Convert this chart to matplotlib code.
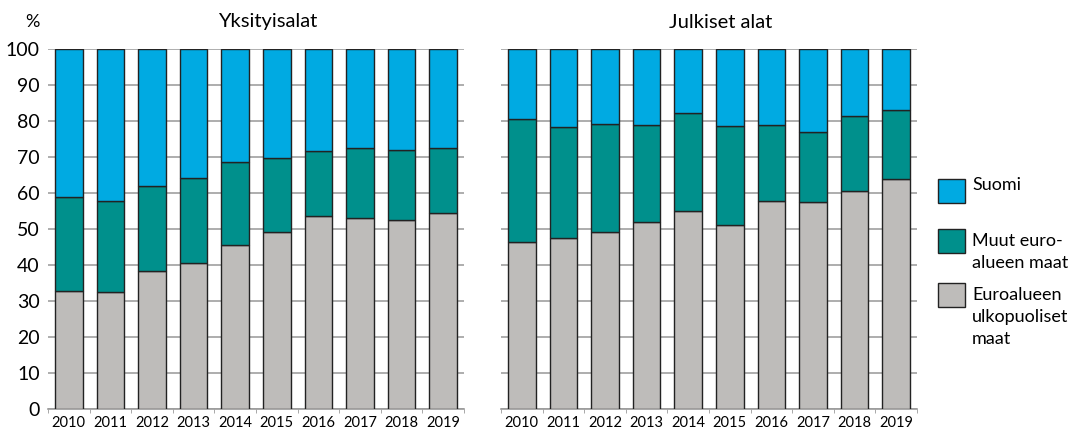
import matplotlib
matplotlib.use("Agg")
import matplotlib.pyplot as plt
import numpy as np

plt.rcParams["font.family"] = ["Lato", "DejaVu Sans"]

years = ["2010", "2011", "2012", "2013", "2014", "2015", "2016", "2017", "2018", "2019"]

# Yksityisalat (private sector), shares in %
priv_outside = [32.9, 32.5, 38.3, 40.6, 45.6, 49.3, 53.6, 53.0, 52.4, 54.4]
priv_euro = [26.1, 25.3, 23.6, 23.5, 23.1, 20.3, 18.1, 19.4, 19.5, 18.2]
priv_finland = [41.0, 42.2, 38.1, 35.9, 31.3, 30.4, 28.3, 27.6, 28.1, 27.4]

# Julkiset alat (public sector), shares in %
pub_outside = [46.3, 47.4, 49.1, 51.9, 54.9, 51.2, 57.9, 57.6, 60.6, 63.8]
pub_euro = [34.3, 30.9, 30.1, 27.0, 27.2, 27.4, 21.0, 19.3, 20.7, 19.3]
pub_finland = [19.4, 21.7, 20.8, 21.1, 17.9, 21.4, 21.1, 23.1, 18.7, 16.9]

c_fin = "#00AAE2"
c_euro = "#00908C"
c_out = "#BEBCBA"

fig = plt.figure(figsize=(10.89, 4.32), dpi=100)
ax1 = fig.add_axes([48 / 1089, 23 / 432, 416 / 1089, 360 / 432])
ax2 = fig.add_axes([501 / 1089, 23 / 432, 416 / 1089, 360 / 432])


def draw(ax, outside, euro, fin, show_y):
    x = np.arange(len(years))
    outside = np.array(outside)
    euro = np.array(euro)
    fin = np.array(fin)
    kw = dict(width=0.66, edgecolor="#222222", linewidth=1, zorder=3)
    ax.bar(x, outside, color=c_out, **kw)
    ax.bar(x, euro, bottom=outside, color=c_euro, **kw)
    ax.bar(x, fin, bottom=outside + euro, color=c_fin, **kw)

    ax.set_xlim(-0.5, 9.5)
    ax.set_ylim(0, 100)
    ax.set_yticks(range(0, 101, 10))
    ax.yaxis.grid(True, color="#A0A0A0", linewidth=1.2, zorder=0)
    ax.set_axisbelow(True)
    for s in ["top", "right", "left"]:
        ax.spines[s].set_visible(False)
    ax.spines["bottom"].set_color("#9A9A9A")
    ax.spines["bottom"].set_linewidth(1.2)
    ax.set_xticks(x)
    ax.set_xticklabels(years, fontsize=10.5)
    ax.set_xticks(np.arange(-0.5, 10, 1), minor=True)
    ax.tick_params(axis="x", which="major", length=0, pad=5)
    ax.tick_params(axis="x", which="minor", length=3, color="#9A9A9A")
    ax.tick_params(axis="y", length=0, pad=6, labelsize=14)
    if not show_y:
        ax.set_yticklabels([])


draw(ax1, priv_outside, priv_euro, priv_finland, True)
draw(ax2, pub_outside, pub_euro, pub_finland, False)

fig.text(268 / 1089, 1 - 22 / 432, "Yksityisalat", fontsize=14.5, ha="center", va="center")
fig.text(721 / 1089, 1 - 22 / 432, "Julkiset alat", fontsize=14.5, ha="center", va="center")
fig.text(32 / 1089, 1 - 22 / 432, "%", fontsize=13, ha="center", va="center")

# legend: colour, label, patch centre (px from top), text top (px from top)
legend_items = [
    (c_fin, "Suomi", 191, 177),
    (c_euro, "Muut euro-\nalueen maat", 241, 233),
    (c_out, "Euroalueen\nulkopuoliset\nmaat", 295, 287),
]
for color, label, yc, ytxt in legend_items:
    fig.patches.append(plt.Rectangle((938 / 1089, 1 - (yc + 12) / 432), 27 / 1089, 24 / 432,
                                     facecolor=color, edgecolor="#222222", linewidth=1,
                                     transform=fig.transFigure, figure=fig))
    fig.text(972 / 1089, 1 - ytxt / 432, label, fontsize=13, ha="left", va="top",
             linespacing=1.45)

fig.savefig("out.png", dpi=100)
